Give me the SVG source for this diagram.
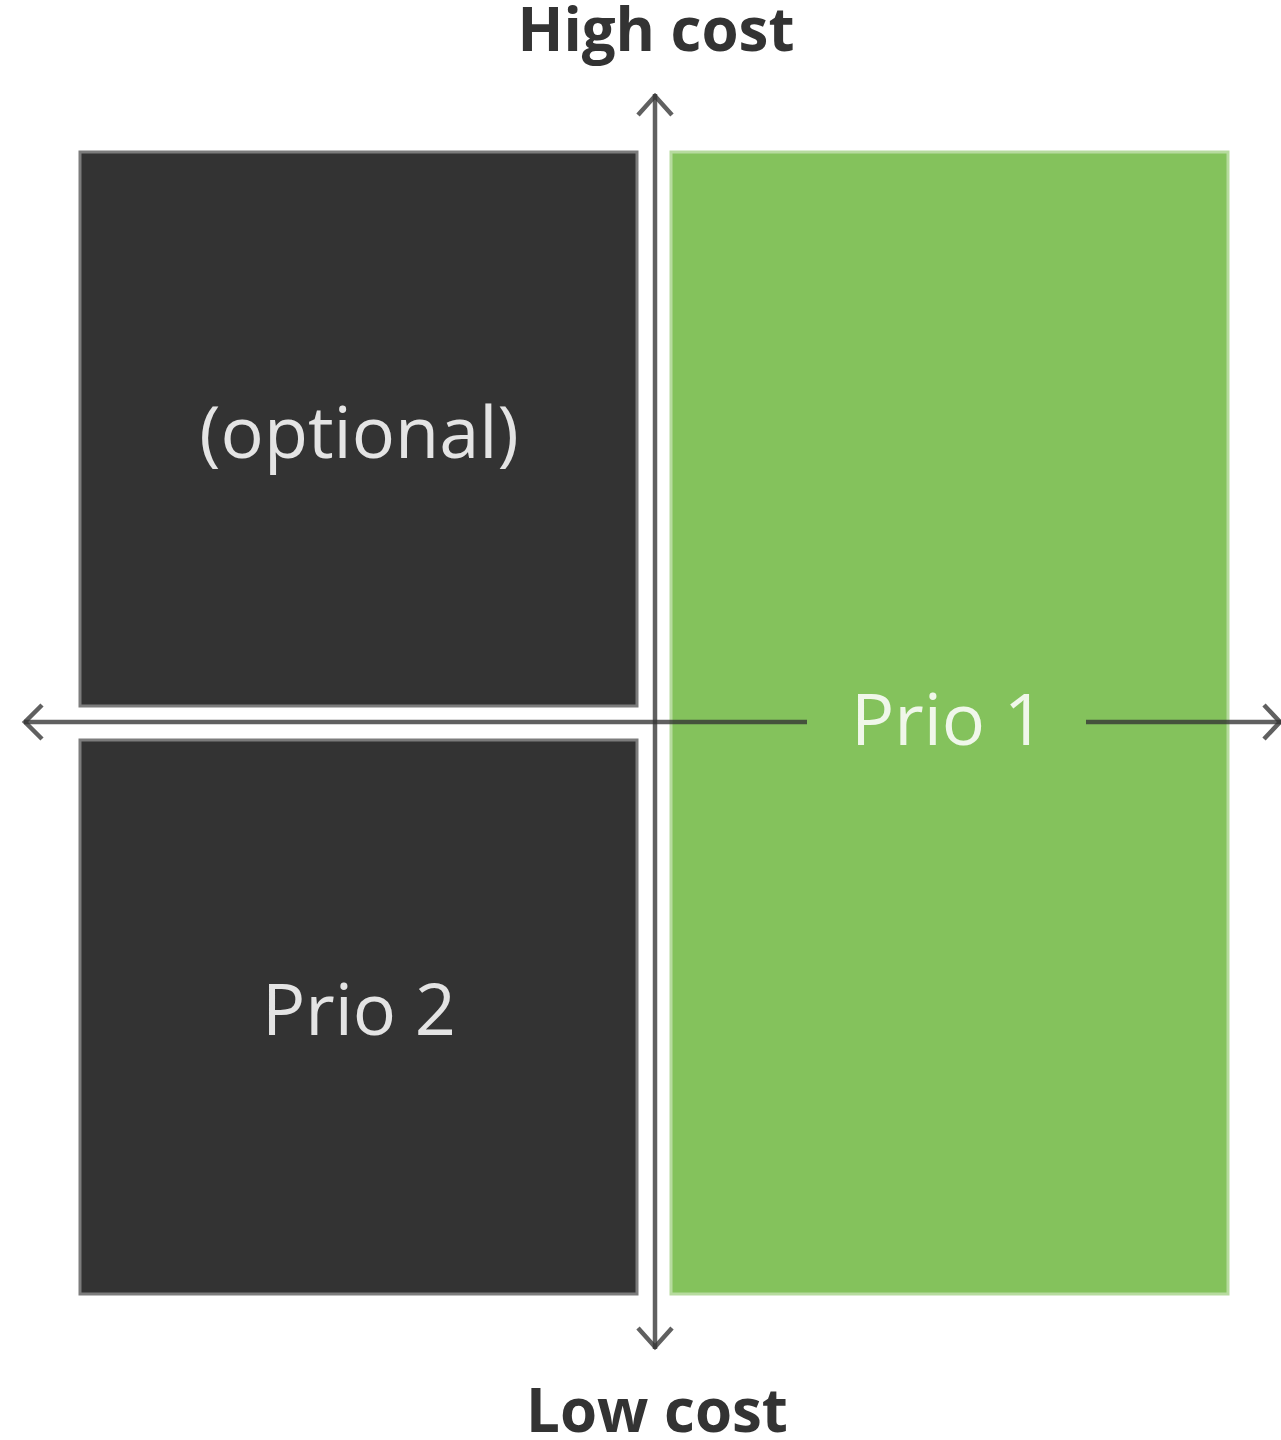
<svg xmlns="http://www.w3.org/2000/svg" width="1281" height="1440" viewBox="0 0 1281 1440">
<style>
.dark{fill:#333333;stroke:#7c7c7c;stroke-width:3}
.green{fill:#84c25c;stroke:#b7db9f;stroke-width:3}
.axis{fill:none;stroke:#333333;stroke-opacity:0.78;stroke-width:4.5;stroke-linecap:butt}
.head{fill:none;stroke:#333333;stroke-opacity:0.78;stroke-width:4.5;stroke-linejoin:miter}
.lbl{font-family:"Open Sans","Noto Sans",sans-serif;font-size:72px;text-anchor:middle}
.ax{font-family:"Open Sans","Noto Sans",sans-serif;font-size:60px;font-weight:bold;fill:#333333;text-anchor:middle}
</style>
<rect width="1281" height="1440" fill="#ffffff"/>
<g id="q-optional">
<rect class="dark" x="80" y="152" width="557" height="554"/>
<text class="lbl" x="359" y="458" fill="#e4e4e4">(optional)</text>
</g>
<g id="q-prio2">
<rect class="dark" x="80" y="740" width="557" height="554"/>
<text class="lbl" x="359" y="1035" fill="#e4e4e4">Prio 2</text>
</g>
<g id="q-prio1">
<rect class="green" x="671" y="152" width="557" height="1142"/>
<text class="lbl" x="948" y="745" fill="#f0f7ea">Prio 1</text>
</g>
<g id="connectors">
<line class="axis" x1="655" y1="94" x2="655" y2="1349"/>
<polyline class="head" points="638,115 655,96 672,115"/>
<polyline class="head" points="638,1328 655,1347 672,1328"/>
<line class="axis" x1="24" y1="722" x2="807" y2="722"/>
<line class="axis" x1="1086" y1="722" x2="1281" y2="722"/>
<polyline class="head" points="42,705 25,722 42,739"/>
<polyline class="head" points="1264,705 1280,722 1264,739"/>
</g>
<g id="labels">
<text class="ax" x="656" y="51">High cost</text>
<text class="ax" x="657" y="1432">Low cost</text>
</g>
</svg>
